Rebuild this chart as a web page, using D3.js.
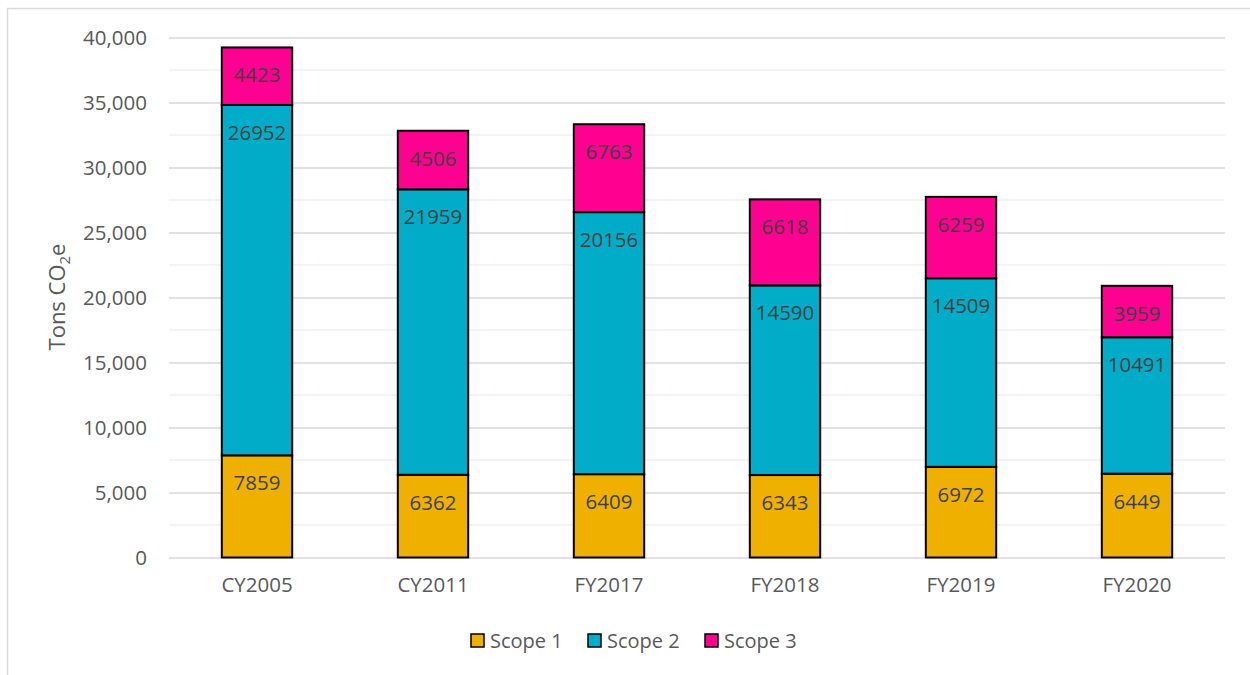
<!DOCTYPE html>
<html>
<head>
<meta charset="utf-8">
<script src="https://cdn.jsdelivr.net/npm/d3@7"></script>
<style>
  body { margin: 0; background: #fff; }
  svg text { font-family: "Open Sans", "Noto Sans", sans-serif; }
</style>
</head>
<body>
<svg id="chart" width="1250" height="675"></svg>
<script>
'use strict';

const categories = ['CY2005', 'CY2011', 'FY2017', 'FY2018', 'FY2019', 'FY2020'];
const scope1 = [7859, 6362, 6409, 6343, 6972, 6449];
const scope2 = [26952, 21959, 20156, 14590, 14509, 10491];
const scope3 = [4423, 4506, 6763, 6618, 6259, 3959];
const seriesNames = ['Scope 1', 'Scope 2', 'Scope 3'];
const yTicks = [0, 5000, 10000, 15000, 20000, 25000, 30000, 35000, 40000];

const colors = ['#f0b000', '#00acc8', '#ff0090'];

const svg = d3.select('#chart');

// outer chart border
svg.append('rect')
    .attr('x', 7.5).attr('y', 8.5)
    .attr('width', 1260).attr('height', 700)
    .attr('fill', 'none')
    .attr('stroke', '#d9d9d9')
    .attr('stroke-width', 1.5);

const plot = { left: 169, right: 1225, top: 37.5, bottom: 557.5 };

const x = d3.scaleBand()
    .domain(categories)
    .range([plot.left, plot.right])
    .paddingInner(0.6)
    .paddingOuter(0.3);

const y = d3.scaleLinear()
    .domain([0, 40000])
    .range([plot.bottom, plot.top]);

// minor gridlines
const minor = d3.range(2500, 40000, 5000);
svg.append('g').selectAll('line').data(minor).enter().append('line')
    .attr('x1', plot.left).attr('x2', plot.right)
    .attr('y1', d => y(d)).attr('y2', d => y(d))
    .attr('stroke', '#f0f0f0')
    .attr('stroke-width', 1.3);

// y axis with major gridlines
const yAxis = d3.axisLeft(y)
    .tickValues(yTicks)
    .tickSize(-(plot.right - plot.left))
    .tickPadding(22)
    .tickFormat(d3.format(','));

const yg = svg.append('g')
    .attr('transform', `translate(${plot.left},0)`)
    .call(yAxis);
yg.select('.domain').remove();
yg.selectAll('.tick line').attr('stroke', '#d9d9d9').attr('stroke-width', 1.5);
yg.selectAll('.tick text')
    .attr('fill', '#595959')
    .style('font-size', '20.5px');

// stacked data
const rows = categories.map((c, i) => ({ cat: c, s1: scope1[i], s2: scope2[i], s3: scope3[i] }));
const stack = d3.stack().keys(['s1', 's2', 's3']);
const stacked = stack(rows);

const layers = svg.append('g').selectAll('g.layer')
    .data(stacked)
    .enter().append('g')
    .attr('class', 'layer')
    .attr('fill', (d, i) => colors[i]);

layers.selectAll('rect')
    .data(d => d)
    .enter().append('rect')
    .attr('x', d => x(d.data.cat))
    .attr('y', d => y(d[1]))
    .attr('width', x.bandwidth())
    .attr('height', d => y(d[0]) - y(d[1]))
    .attr('stroke', '#000')
    .attr('stroke-width', 2);

// value labels, inside end
layers.selectAll('text')
    .data(d => d.map(v => ({ v: v, key: d.key })))
    .enter().append('text')
    .attr('x', d => x(d.v.data.cat) + x.bandwidth() / 2)
    .attr('y', d => y(d.v[1]) + 35)
    .attr('text-anchor', 'middle')
    .attr('fill', '#404040')
    .style('font-size', '20.5px')
    .text(d => d.v.data[d.key]);

// x axis labels
const xg = svg.append('g')
    .attr('transform', `translate(0,${plot.bottom})`)
    .call(d3.axisBottom(x).tickSize(0).tickPadding(20));
xg.select('.domain').remove();
xg.selectAll('.tick text')
    .attr('fill', '#595959')
    .style('font-size', '20.5px');

// y axis title
const title = svg.append('text')
    .attr('transform', 'translate(65,297) rotate(-90)')
    .attr('text-anchor', 'middle')
    .attr('fill', '#595959')
    .style('font-size', '22px');
title.append('tspan').text('Tons CO');
title.append('tspan').attr('dy', 5).style('font-size', '15px').text('2');
title.append('tspan').attr('dy', -5).text('e');

// legend
const legendX = [471, 588, 705];
const legend = svg.append('g').selectAll('g')
    .data(seriesNames)
    .enter().append('g')
    .attr('transform', (d, i) => `translate(${legendX[i]},634)`);
legend.append('rect')
    .attr('width', 13).attr('height', 13)
    .attr('fill', (d, i) => colors[i])
    .attr('stroke', '#000')
    .attr('stroke-width', 1.5);
legend.append('text')
    .attr('x', 19).attr('y', 14)
    .attr('fill', '#595959')
    .style('font-size', '20px')
    .text(d => d);
</script>
</body>
</html>
